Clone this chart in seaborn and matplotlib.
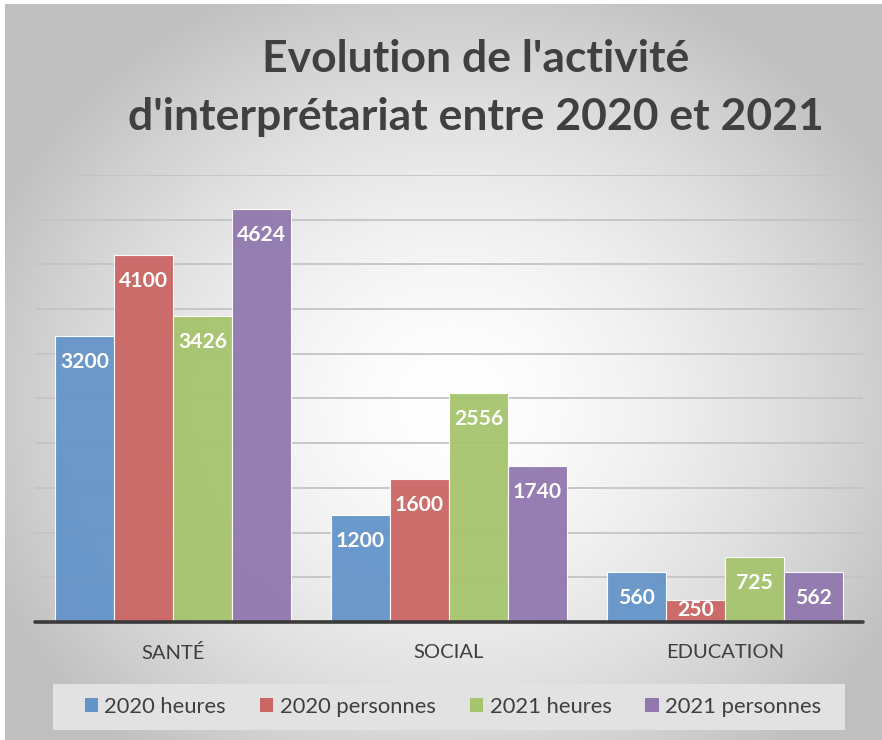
import numpy as np
import pandas as pd
import matplotlib
matplotlib.use("Agg")
import matplotlib.pyplot as plt
import seaborn as sns

categories = ["SANTÉ", "SOCIAL", "EDUCATION"]
series_names = ["2020 heures", "2020 personnes", "2021 heures", "2021 personnes"]
v2020_heures = [3200, 1200, 560]
v2020_personnes = [4100, 1600, 250]
v2021_heures = [3426, 2556, 725]
v2021_personnes = [4624, 1740, 562]
colors = ["#6594C9", "#CB6664", "#A6C46E", "#9178AF"]
title = "Evolution de l'activité\nd'interprétariat entre 2020 et 2021"

values = [v2020_heures, v2020_personnes, v2021_heures, v2021_personnes]
rows = []
for s, vals in zip(series_names, values):
    for c, v in zip(categories, vals):
        rows.append({"cat": c, "serie": s, "val": v})
df = pd.DataFrame(rows)

sns.set_theme(style="white")
plt.rcParams["font.family"] = ["Lato", "DejaVu Sans"]

W, H = 882, 740
DPI = 100
fig = plt.figure(figsize=(W / DPI, H / DPI), dpi=DPI)
fig.patch.set_facecolor("white")

# radial gradient background
bg = fig.add_axes([5 / W, 0, 1 - 5 / W, 1 - 4 / H], zorder=-10)
yy, xx = np.mgrid[0:H, 0:W]
cx, cy = 450, 400
r = np.sqrt(((xx - cx) / 520.0) ** 2 + ((yy - cy) / 470.0) ** 2)
g = np.clip(1.0 - 0.26 * r ** 1.6, 0.75, 1.0)
bg.imshow(np.dstack([g, g, g]), aspect="auto", extent=(0, 1, 0, 1), origin="upper")
bg.set_axis_off()

ax = fig.add_axes([35 / W, (H - 622) / H, (863 - 35) / W, (622 - 175) / H])
ax.set_facecolor("none")

sns.barplot(data=df, x="cat", y="val", hue="serie", order=categories,
            hue_order=series_names, palette=colors, width=0.855,
            saturation=1, edgecolor="#ffffff", linewidth=0.8, alpha=0.95,
            ax=ax, legend=True, errorbar=None, zorder=2)

ax.set_ylim(0, 5000)
ax.set_xlim(-0.5, 2.5)
ax.set_yticks(np.arange(500, 5001, 500))
ax.yaxis.grid(True, color="#c4c4c4", linewidth=1.3, zorder=0)
ax.set_axisbelow(True)
ax.tick_params(axis="y", left=False, labelleft=False)
ax.tick_params(axis="x", bottom=False, pad=9.5, labelsize=14.5, labelcolor="#3f3f3f")
ax.set_xlabel("")
ax.set_ylabel("")
for sp in ax.spines.values():
    sp.set_visible(False)
ax.axhline(0, color="#3a3a3a", linewidth=2.6, zorder=5, clip_on=False)

px_per_unit = (622 - 175) / 5000.0
for cont in ax.containers:
    for p in cont.patches:
        h = p.get_height()
        off_px = min(26.0, h * px_per_unit - 12.0)
        ax.annotate(f"{int(round(h))}", xy=(p.get_x() + p.get_width() / 2, h),
                    xytext=(0, -off_px * 72 / DPI), textcoords="offset points",
                    ha="center", va="center", color="white",
                    fontsize=15.2, fontweight="bold", zorder=6)

ax.get_legend().remove()
# legend background box
fig.patches.append(plt.Rectangle((53 / W, 1 - 730 / H), (845 - 53) / W, 46 / H,
                                 transform=fig.transFigure, facecolor="#e2e2e2",
                                 edgecolor="none", zorder=1))
handles = [plt.Rectangle((0, 0), 1, 1, facecolor=c, edgecolor="none") for c in colors]
leg = fig.legend(handles, series_names, loc="center", ncol=4,
                 bbox_to_anchor=(453 / W, 1 - 707 / H), frameon=False,
                 fontsize=15.8, handlelength=0.6, handleheight=0.6,
                 handletextpad=0.3, columnspacing=1.55, borderpad=0.3,
                 borderaxespad=0, labelcolor="#3f3f3f")
leg.set_zorder(3)

fig.text(476 / W, 1 - 88 / H, title, ha="center", va="center",
         fontsize=32, fontweight="bold", color="#404040", linespacing=1.55)

fig.savefig("out.png", dpi=DPI)
